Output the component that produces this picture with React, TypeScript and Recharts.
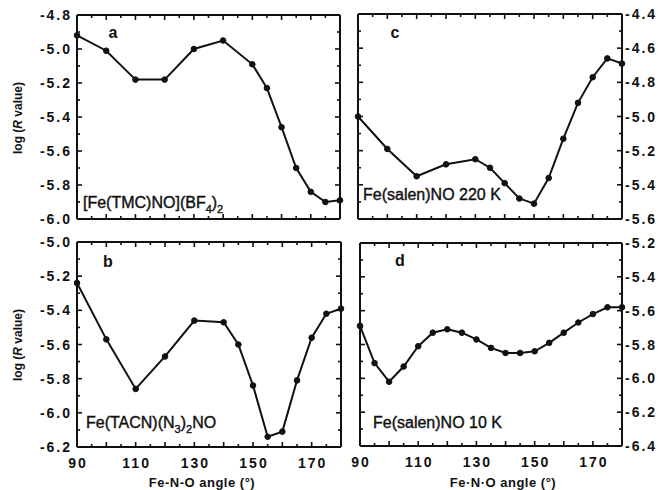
import React from 'react';
import { LineChart, Line, XAxis, YAxis } from 'recharts';

// Fe-N-O angle grid (degrees)
const angleTicks = [90, 95, 100, 105, 110, 115, 120, 125, 130, 135, 140, 145, 150, 155, 160, 165, 170, 175, 180];
const angleLabels = [90, 110, 130, 150, 170];

// a: [Fe(TMC)NO](BF4)2
const anglesA = [90, 100, 110, 120, 130, 140, 150, 155, 160, 165, 170, 175, 180];
const logRA = [-4.92, -5.01, -5.18, -5.18, -5.0, -4.95, -5.09, -5.23, -5.46, -5.7, -5.84, -5.9, -5.89];
const yLabelsA = [-4.8, -5.0, -5.2, -5.4, -5.6, -5.8, -6.0];

// b: Fe(TACN)(N3)2NO
const anglesB = [90, 100, 110, 120, 130, 140, 145, 150, 155, 160, 165, 170, 175, 180];
const logRB = [-5.24, -5.57, -5.86, -5.67, -5.46, -5.47, -5.6, -5.84, -6.14, -6.11, -5.81, -5.56, -5.42, -5.39];
const yLabelsB = [-5.0, -5.2, -5.4, -5.6, -5.8, -6.0, -6.2];

// c: Fe(salen)NO 220 K
const anglesC = [90, 100, 110, 120, 130, 135, 140, 145, 150, 155, 160, 165, 170, 175, 180];
const logRC = [-5.0, -5.19, -5.35, -5.28, -5.25, -5.3, -5.39, -5.48, -5.51, -5.36, -5.13, -4.92, -4.77, -4.66, -4.69];
const yLabelsC = [-4.4, -4.6, -4.8, -5.0, -5.2, -5.4, -5.6];

// d: Fe(salen)NO 10 K
const anglesD = [90, 95, 100, 105, 110, 115, 120, 125, 130, 135, 140, 145, 150, 155, 160, 165, 170, 175, 180];
const logRD = [-5.69, -5.91, -6.02, -5.93, -5.81, -5.73, -5.71, -5.73, -5.77, -5.82, -5.85, -5.85, -5.84, -5.79, -5.73, -5.67, -5.62, -5.58, -5.58];
const yLabelsD = [-5.2, -5.4, -5.6, -5.8, -6.0, -6.2, -6.4];

const W = 659;
const H = 490;
const FONT = '"Liberation Sans", Arial, Helvetica, sans-serif';

const zip = (xs: number[], ys: number[]) => xs.map((x, i) => ({ x, y: ys[i] }));

// labels every 0.2, plus minor ticks halfway between
const withMinor = (labels: number[]) => {
  const out: number[] = [];
  labels.forEach((v, i) => {
    out.push(v);
    if (i < labels.length - 1) out.push(Math.round(((v + labels[i + 1]) / 2) * 10) / 10);
  });
  return out;
};

const fmt = (v: number) => (v < 0 ? '-' : '') + Math.abs(v).toFixed(1);

type Side = 'bottom' | 'top' | 'left' | 'right';

function makeTick(side: Side, labels: number[], showLabels: boolean) {
  return (props: any) => {
    const { x, y, payload } = props;
    const v = payload.value as number;
    const isLabel = labels.some((l) => Math.abs(l - v) < 1e-6);
    const major = side === 'bottom' || side === 'top' ? v % 10 === 0 : isLabel;
    const len = major ? 5 : 3;
    const textStyle = { fontFamily: FONT, fontSize: 14, fontWeight: 700, letterSpacing: 2, fill: '#111' };
    if (side === 'bottom') {
      return (
        <g>
          <line x1={x} y1={y} x2={x} y2={y - len} stroke="#111" strokeWidth={1.6} />
          {showLabels && isLabel && (
            <text x={x + 1} y={y + 21} textAnchor="middle" style={textStyle}>{v}</text>
          )}
        </g>
      );
    }
    if (side === 'top') {
      return <line x1={x} y1={y} x2={x} y2={y + len} stroke="#111" strokeWidth={1.6} />;
    }
    if (side === 'left') {
      return (
        <g>
          <line x1={x} y1={y} x2={x + len} y2={y} stroke="#111" strokeWidth={1.6} />
          {showLabels && isLabel && (
            <text x={x - 5} y={y + 5} textAnchor="end" style={textStyle}>{fmt(v)}</text>
          )}
        </g>
      );
    }
    return (
      <g>
        <line x1={x} y1={y} x2={x - len} y2={y} stroke="#111" strokeWidth={1.6} />
        {showLabels && isLabel && (
          <text x={x + 3} y={y + 5} textAnchor="start" style={textStyle}>{fmt(v)}</text>
        )}
      </g>
    );
  };
}

interface PanelProps {
  box: { x0: number; x1: number; y0: number; y1: number };
  angles: number[];
  values: number[];
  yLabels: number[];
  labelSide: 'left' | 'right';
  showX: boolean;
}

function Panel({ box, angles, values, yLabels, labelSide, showX }: PanelProps) {
  const data = zip(angles, values);
  const yTicks = withMinor(yLabels);
  const domain = [Math.min(...yLabels), Math.max(...yLabels)];
  const axisLine = { stroke: '#111', strokeWidth: 2 };
  return (
    <div style={{ position: 'absolute', left: 0, top: 0 }}>
      <LineChart
        width={W}
        height={H}
        data={data}
        margin={{ top: box.y0 - 1, left: box.x0 - 1, right: W - box.x1 - 1, bottom: H - box.y1 - 1 }}
        style={{ overflow: 'visible' }}
      >
        <XAxis
          dataKey="x"
          type="number"
          domain={[90, 180]}
          ticks={angleTicks}
          interval={0}
          height={1}
          tickSize={0}
          tickMargin={0}
          axisLine={axisLine}
          tickLine={false}
          tick={makeTick('bottom', angleLabels, showX)}
        />
        <XAxis
          xAxisId="top"
          orientation="top"
          dataKey="x"
          type="number"
          domain={[90, 180]}
          ticks={angleTicks}
          interval={0}
          height={1}
          tickSize={0}
          tickMargin={0}
          axisLine={axisLine}
          tickLine={false}
          tick={makeTick('top', angleLabels, false)}
        />
        <YAxis
          type="number"
          domain={domain}
          ticks={yTicks}
          interval={0}
          width={1}
          tickSize={0}
          tickMargin={0}
          axisLine={axisLine}
          tickLine={false}
          tick={makeTick('left', yLabels, labelSide === 'left')}
        />
        <YAxis
          yAxisId="r"
          orientation="right"
          type="number"
          domain={domain}
          ticks={yTicks}
          interval={0}
          width={1}
          tickSize={0}
          tickMargin={0}
          axisLine={axisLine}
          tickLine={false}
          tick={makeTick('right', yLabels, labelSide === 'right')}
        />
        {/* invisible copy so the top / right frame axes get a domain */}
        <Line
          xAxisId="top"
          yAxisId="r"
          type="linear"
          dataKey="y"
          stroke="none"
          dot={false}
          activeDot={false}
          isAnimationActive={false}
        />
        <Line
          type="linear"
          dataKey="y"
          stroke="#111"
          strokeWidth={2}
          dot={{ r: 2.8, fill: '#111', stroke: '#111', strokeWidth: 1 }}
          isAnimationActive={false}
        />
      </LineChart>
    </div>
  );
}

function Annotations() {
  const letter = { fontFamily: FONT, fontSize: 16, fontWeight: 700, fill: '#111' };
  const name = { fontFamily: FONT, fontSize: 16, fill: '#111', stroke: '#111', strokeWidth: 0.4 };
  const title = { fontFamily: FONT, fontSize: 13, fontWeight: 700, letterSpacing: 0.5, fill: '#111' };
  const ytitle = { fontFamily: FONT, fontSize: 12, fontWeight: 700, fill: '#111' };
  return (
    <svg width={W} height={H} style={{ position: 'absolute', left: 0, top: 0, pointerEvents: 'none' }}>
      <text x={113} y={38} textAnchor="middle" style={letter}>a</text>
      <text x={395} y={38} textAnchor="middle" style={letter}>c</text>
      <text x={108} y={267} textAnchor="middle" style={letter}>b</text>
      <text x={400} y={266} textAnchor="middle" style={letter}>d</text>

      <text x={83} y={208} style={name}>
        <tspan>[Fe(TMC)NO](BF</tspan>
        <tspan dy={5} fontSize={11}>4</tspan>
        <tspan dy={-5}>)</tspan>
        <tspan dy={5} fontSize={11}>2</tspan>
      </text>
      <text x={363} y={200} style={name}>Fe(salen)NO 220 K</text>
      <text x={86} y={428} style={name}>
        <tspan>Fe(TACN)(N</tspan>
        <tspan dy={5} fontSize={11}>3</tspan>
        <tspan dy={-5}>)</tspan>
        <tspan dy={5} fontSize={11}>2</tspan>
        <tspan dy={-5}>NO</tspan>
      </text>
      <text x={373} y={428} style={name}>Fe(salen)NO 10 K</text>

      <text x={202} y={487} textAnchor="middle" style={title}>Fe-N-O angle (°)</text>
      <text x={503} y={487} textAnchor="middle" style={title}>Fe·N·O angle  (°)</text>

      <text transform="translate(22,118) rotate(-90)" textAnchor="middle" style={ytitle}>
        <tspan>log (</tspan>
        <tspan fontStyle="italic">R</tspan>
        <tspan> value)</tspan>
      </text>
      <text transform="translate(22,345) rotate(-90)" textAnchor="middle" style={ytitle}>
        <tspan>log (</tspan>
        <tspan fontStyle="italic">R</tspan>
        <tspan> value)</tspan>
      </text>
    </svg>
  );
}

export default function App() {
  return (
    <div style={{ position: 'absolute', left: 0, top: 0, width: W, height: H, background: '#fff' }}>
      <Panel box={{ x0: 77, x1: 340, y0: 15, y1: 219 }} angles={anglesA} values={logRA} yLabels={yLabelsA} labelSide="left" showX={false} />
      <Panel box={{ x0: 358, x1: 622, y0: 14, y1: 219 }} angles={anglesC} values={logRC} yLabels={yLabelsC} labelSide="right" showX={false} />
      <Panel box={{ x0: 77, x1: 341, y0: 242, y1: 447 }} angles={anglesB} values={logRB} yLabels={yLabelsB} labelSide="left" showX={true} />
      <Panel box={{ x0: 360, x1: 622, y0: 243, y1: 446 }} angles={anglesD} values={logRD} yLabels={yLabelsD} labelSide="right" showX={true} />
      <Annotations />
    </div>
  );
}
